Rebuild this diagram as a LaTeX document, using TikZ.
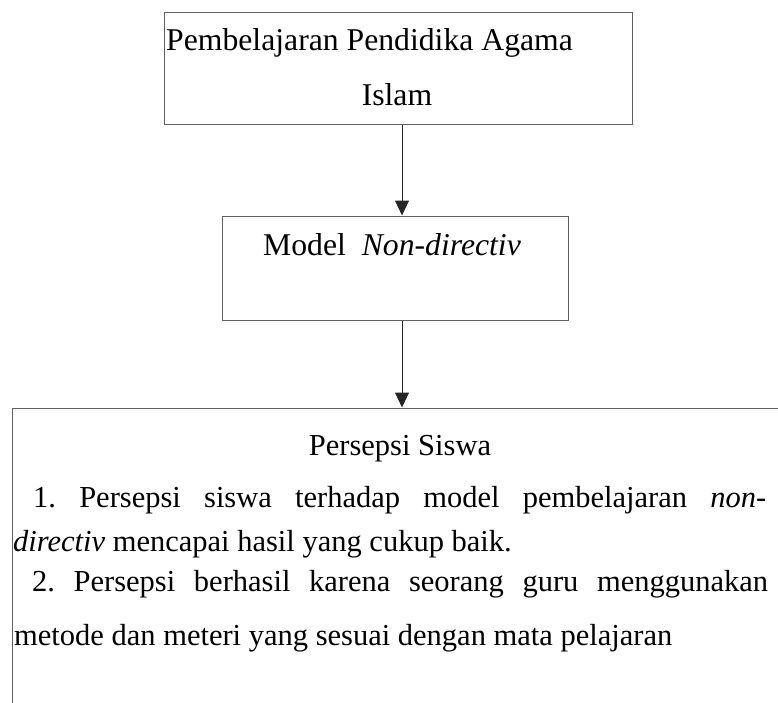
\documentclass[tikz,border=0pt]{standalone}
\usepackage{fontspec}
\setmainfont{Liberation Serif}
\usetikzlibrary{arrows.meta}
\begin{document}
\frenchspacing
\begin{tikzpicture}[x=1pt,y=-1pt,
  framebox/.style={draw=black!62, line width=1pt, inner sep=0pt, minimum width=#1},
  txt/.style={inner sep=0pt, font=\fontsize{31.7}{31.7}\selectfont},
  btxt/.style={inner sep=0pt, font=\fontsize{30.5}{30.5}\selectfont},
  arr/.style={draw=black!85, line width=1pt, -{Triangle[width=14pt,length=15pt]}}]
\useasboundingbox (0,0) rectangle (778,702);
\clip (0,0) rectangle (778,702);
% boxes
\node[framebox=468pt, minimum height=112pt] (top) at (398,68) {};
\node[framebox=346pt, minimum height=104pt] (mid) at (395,268) {};
\node[framebox=808pt, minimum height=352pt] (bot) at (416,584) {};
% texts
\node[txt, anchor=base west] (t1) at (166,50) {Pembelajaran Pendidika Agama};
\node[txt, anchor=base] (t2) at (397,105) {Islam};
\node[txt, anchor=base] (m1) at (392,255) {Model\ \ \textit{Non-directiv}};
\node[btxt, anchor=base] (b0) at (400,455) {Persepsi Siswa};
\node[btxt, anchor=base west] (b1) at (33,507) {\makebox[733pt][s]{1. Persepsi siswa terhadap model pembelajaran \textit{non-}}};
\node[btxt, anchor=base west] (b2) at (13,551) {\textit{directiv} mencapai hasil yang cukup baik.};
\node[btxt, anchor=base west] (b3) at (32,591) {\makebox[736pt][s]{2. Persepsi berhasil karena seorang guru menggunakan}};
\node[btxt, anchor=base west] (b4) at (14,645) {metode dan meteri yang sesuai dengan mata pelajaran};
% connectors
\coordinate (ax) at (402,0);
\draw[arr] (top.south -| ax) -- (mid.north -| ax);
\draw[arr] (mid.south -| ax) -- (bot.north -| ax);
\end{tikzpicture}
\end{document}
